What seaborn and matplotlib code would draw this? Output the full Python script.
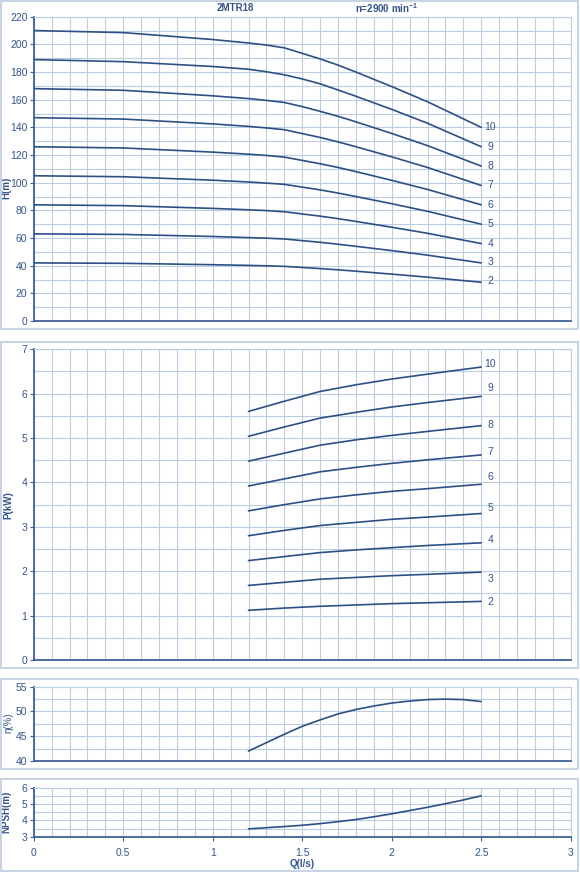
import matplotlib
matplotlib.use("Agg")
import matplotlib.pyplot as plt
from matplotlib.patches import Rectangle
import seaborn as sns
import numpy as np

# head curves H(m) per number of stages
q_h = [0, 0.5, 1.0, 1.2, 1.3, 1.4, 1.5, 1.6, 1.7, 1.8, 2.0, 2.2, 2.5]
h_2 = [42, 41.7, 40.7, 40.2, 39.9, 39.5, 38.7, 37.9, 37, 36, 33.9, 31.7, 28]
h_3 = [63, 62.6, 61.1, 60.3, 59.9, 59.3, 58.1, 56.9, 55.5, 54, 50.9, 47.6, 42]
h_4 = [84, 83.4, 81.4, 80.4, 79.8, 79, 77.4, 75.8, 74, 72, 67.8, 63.4, 56]
h_5 = [105, 104.3, 101.8, 100.5, 99.7, 98.8, 96.8, 94.8, 92.5, 90, 84.8, 79.3, 70]
h_6 = [126, 125.1, 122.1, 120.6, 119.7, 118.5, 116.1, 113.7, 111, 108, 101.7, 95.1, 84]
h_7 = [147, 146, 142.5, 140.7, 139.6, 138.3, 135.5, 132.7, 129.5, 126, 118.7, 111, 98]
h_8 = [168, 166.8, 162.8, 160.8, 159.5, 158, 155, 151.6, 148, 144, 135.6, 126.8, 112]
h_9 = [189, 187.5, 184, 182, 180.2, 178, 175, 171.5, 167, 162.5, 153, 143, 126]
h_10 = [210, 208.5, 203.5, 201, 199.5, 197.5, 193.5, 189.5, 185, 180, 169.5, 158.5, 140]

# power curves P(kW)
q_p = [1.2, 1.4, 1.6, 1.8, 2.0, 2.2, 2.5]
p_2 = [1.12, 1.17, 1.21, 1.24, 1.27, 1.29, 1.32]
p_3 = [1.68, 1.75, 1.82, 1.86, 1.90, 1.93, 1.98]
p_4 = [2.24, 2.33, 2.42, 2.48, 2.53, 2.58, 2.64]
p_5 = [2.80, 2.92, 3.03, 3.10, 3.17, 3.22, 3.30]
p_6 = [3.36, 3.50, 3.63, 3.72, 3.80, 3.86, 3.96]
p_7 = [3.92, 4.08, 4.24, 4.34, 4.43, 4.51, 4.62]
p_8 = [4.48, 4.66, 4.84, 4.96, 5.06, 5.15, 5.28]
p_9 = [5.04, 5.25, 5.45, 5.58, 5.70, 5.80, 5.94]
p_10 = [5.60, 5.83, 6.05, 6.20, 6.33, 6.44, 6.60]

stages = ["2", "3", "4", "5", "6", "7", "8", "9", "10"]
h_label_y = [29, 42.5, 56, 70, 84, 98, 112, 126, 140.5]
p_label_y = [1.30, 1.82, 2.70, 3.43, 4.13, 4.69, 5.29, 6.12, 6.67]

# efficiency and NPSH
q_e = [1.2, 1.3, 1.4, 1.5, 1.6, 1.7, 1.8, 1.9, 2.0, 2.1, 2.2, 2.3, 2.4, 2.5]
eta = [42.0, 43.7, 45.4, 47.0, 48.3, 49.5, 50.4, 51.1, 51.7, 52.1, 52.4, 52.5, 52.4, 52.0]
npsh = [3.48, 3.55, 3.62, 3.70, 3.80, 3.92, 4.05, 4.22, 4.40, 4.60, 4.80, 5.02, 5.25, 5.50]

h_curves = [h_2, h_3, h_4, h_5, h_6, h_7, h_8, h_9, h_10]
p_curves = [p_2, p_3, p_4, p_5, p_6, p_7, p_8, p_9, p_10]

sns.set_style("white")
plt.rcParams['font.family'] = ['Liberation Sans', 'DejaVu Sans']
plt.rcParams['mathtext.default'] = 'regular'

line_c = '#2c4f86'
text_c = '#34558a'
grid_c = '#bccde1'
frame_c = '#c8d4e4'

fig = plt.figure(figsize=(5.8, 8.72), dpi=100)

L, W = 33.7 / 580, 537 / 580
def fy(px):
    return 1 - px / 872

ax1 = fig.add_axes([L, fy(321), W, (321 - 16.7) / 872])
ax2 = fig.add_axes([L, fy(660), W, (660 - 349.3) / 872])
ax3 = fig.add_axes([L, fy(761), W, (761 - 686.7) / 872])
ax4 = fig.add_axes([L, fy(836.7), W, (836.7 - 787.7) / 872])

# panel frames
for top, bot in [(1, 329.3), (342.3, 668.3), (679, 769), (779, 870.7)]:
    fig.patches.append(Rectangle((1 / 580, fy(bot)), 577 / 580, (bot - top) / 872,
                                 transform=fig.transFigure, fill=False,
                                 edgecolor=frame_c, lw=1.5))

def style(ax, ylo, yhi, major, minor, show_x=False):
    ax.set_xlim(0, 3)
    ax.set_ylim(ylo, yhi)
    ax.set_xticks(np.arange(0, 3.01, 0.5))
    ax.set_xticks(np.arange(0, 3.01, 0.1), minor=True)
    ax.set_yticks(np.arange(ylo, yhi + 0.001, major))
    ax.set_yticks(np.arange(ylo, yhi + 0.001, minor), minor=True)
    ax.grid(True, which='both', color=grid_c, lw=0.8)
    ax.set_axisbelow(True)
    for s in ['top', 'right']:
        ax.spines[s].set_color(grid_c)
        ax.spines[s].set_linewidth(0.8)
    for s in ['left', 'bottom']:
        ax.spines[s].set_color('#3d6096')
        ax.spines[s].set_linewidth(1.3)
    ax.tick_params(axis='y', which='major', direction='out', length=3, width=0.8,
                   color='#3d6096', labelsize=7.5, labelcolor=text_c, pad=1.5, left=True)
    ax.tick_params(axis='y', which='minor', length=0)
    ax.tick_params(axis='x', which='minor', length=0)
    if show_x:
        ax.tick_params(axis='x', which='major', direction='out', length=3, width=0.8,
                       color='#3d6096', labelsize=7.5, labelcolor=text_c, pad=5, bottom=True)
        ax.set_xticklabels(['0', '0.5', '1', '1.5', '2', '2.5', '3'])
    else:
        ax.tick_params(axis='x', which='major', length=0, labelbottom=False)

style(ax1, 0, 220, 20, 10)
style(ax2, 0, 7, 1, 0.5)
style(ax3, 40, 55, 5, 2.5)
style(ax4, 3, 6, 1, 0.5, show_x=True)
ax1.set_yticklabels([str(v) for v in range(0, 221, 20)])
ax2.set_yticklabels([str(v) for v in range(0, 8)])
ax3.set_yticklabels(['40', '45', '50', '55'])
ax4.set_yticklabels(['3', '4', '5', '6'])

for st, h, ly in zip(stages, h_curves, h_label_y):
    sns.lineplot(x=q_h, y=h, ax=ax1, color=line_c, lw=1.2, estimator=None, sort=False)
    ax1.text(2.55, ly, st, ha='center', va='center', fontsize=7.5, color=text_c)

for st, p, ly in zip(stages, p_curves, p_label_y):
    sns.lineplot(x=q_p, y=p, ax=ax2, color=line_c, lw=1.2, estimator=None, sort=False)
    ax2.text(2.55, ly, st, ha='center', va='center', fontsize=7.5, color=text_c)

sns.lineplot(x=q_e, y=eta, ax=ax3, color=line_c, lw=1.2, estimator=None, sort=False)
sns.lineplot(x=q_e, y=npsh, ax=ax4, color=line_c, lw=1.2, estimator=None, sort=False)

lab = dict(fontsize=7, color=text_c)
ax1.set_ylabel('H(m)', fontweight='bold', **lab)
ax1.yaxis.set_label_coords(-0.041, 0.437)
ax2.set_ylabel('P(kW)', fontweight='bold', **lab)
ax2.yaxis.set_label_coords(-0.038, 0.5)
ax3.set_ylabel('η(%)', **lab)
ax3.yaxis.set_label_coords(-0.038, 0.51)
ax4.set_ylabel('NPSH(m)', fontweight='bold', **lab)
ax4.yaxis.set_label_coords(-0.041, 0.51)
ax4.set_xlabel('Q(l/s)', fontweight='bold', labelpad=1, **lab)

fig.text(235 / 580, fy(8), '2MTR18', ha='center', va='center',
         fontsize=7, fontweight='bold', color=text_c)
fig.text(387 / 580, fy(8), 'n=2900 min$^{-1}$', ha='center', va='center',
         fontsize=7, fontweight='bold', color=text_c)

fig.savefig('out.png', dpi=100)
